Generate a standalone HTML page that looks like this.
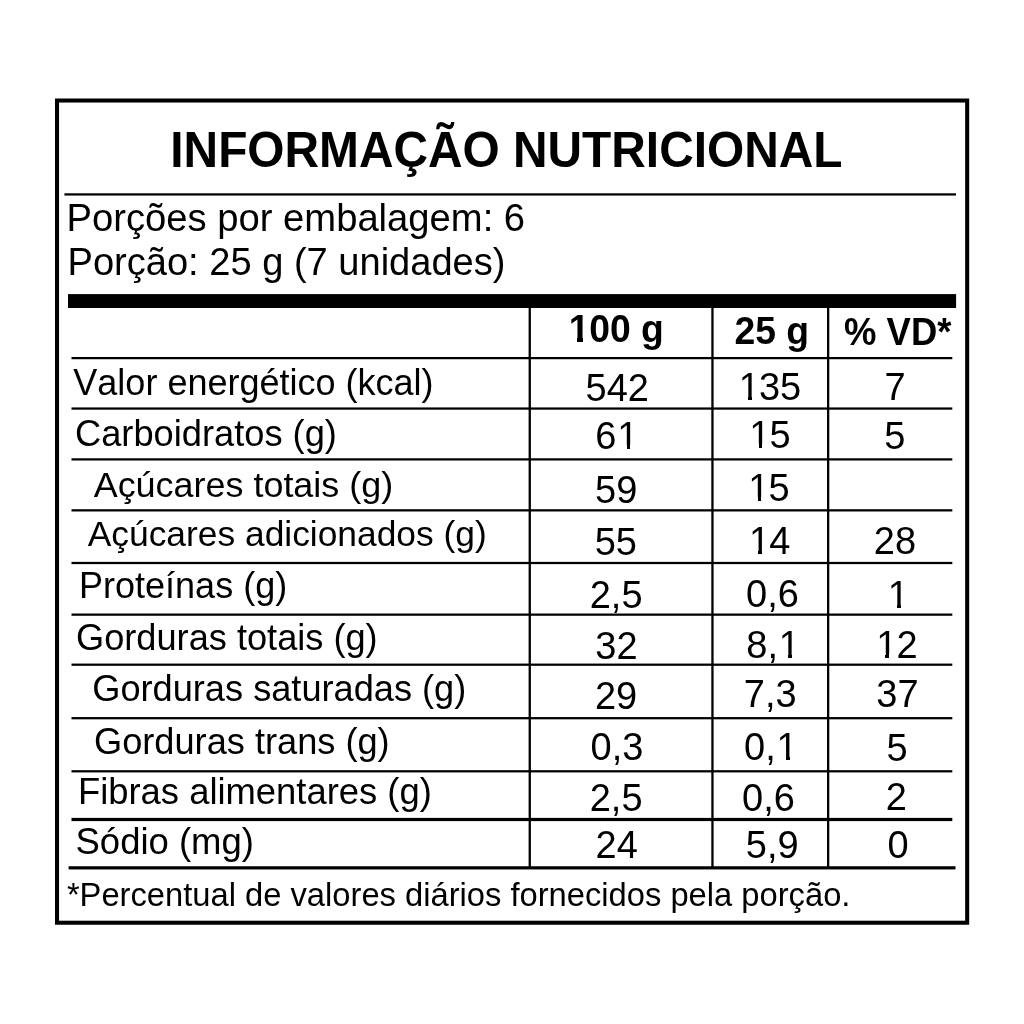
<!DOCTYPE html>
<html lang="pt-BR">
<head>
<meta charset="utf-8">
<title>Informação Nutricional</title>
<style>
html,body{margin:0;padding:0;background:#fff;}
body{width:1024px;height:1024px;position:relative;overflow:hidden;font-family:"Liberation Sans", Arial, Helvetica, sans-serif;color:#000;}
.l{position:absolute;left:0;top:0;width:1024px;height:1024px;}
.t{position:absolute;white-space:nowrap;line-height:1;font-kerning:none;}
.b{font-weight:bold;}
.o{position:relative;left:.024em}
.o::before,.o::after{content:"";position:absolute;background:#fff;top:.79em;height:.16em}
.o::before{left:.06em;width:.186em}
.o::after{left:.346em;width:.19em}
.b .o{left:.01em}
.b .o::before,.b .o::after{top:.76em;height:.19em}
.b .o::before{left:.05em;width:.174em}
.b .o::after{left:.379em;width:.17em}
</style>
</head>
<body>
<svg class="l" width="1024" height="1024" viewBox="0 0 1024 1024" fill="#000">
<rect x="57.025" y="100.525" width="910.15" height="822.2" fill="none" stroke="#000" stroke-width="4.05"/>
<rect x="64.4" y="193.3" width="891.6" height="2.25"/>
<rect x="68" y="294.1" width="888.1" height="13.9"/>
<rect x="71.5" y="356.975" width="880.8" height="2.25"/>
<rect x="71.5" y="407.425" width="880.8" height="2.25"/>
<rect x="71.5" y="458.275" width="880.8" height="2.25"/>
<rect x="71.5" y="509.225" width="880.8" height="2.25"/>
<rect x="71.5" y="561.875" width="880.8" height="2.25"/>
<rect x="71.5" y="613.525" width="880.8" height="2.25"/>
<rect x="71.5" y="663.575" width="880.8" height="2.25"/>
<rect x="71.5" y="717.075" width="880.8" height="2.25"/>
<rect x="71.5" y="770.175" width="880.8" height="2.25"/>
<rect x="71.5" y="817.9" width="880.8" height="3.2"/>
<rect x="68.6" y="866.25" width="886.9" height="3.2"/>
<rect x="528.6" y="307.5" width="2.3" height="560.5"/>
<rect x="711.3" y="307.5" width="2.3" height="560.5"/>
<rect x="827" y="307.5" width="2.3" height="560.5"/>
</svg>
<div id="title" class="t b" style="left:170.30px;top:127.40px;font-size:47.84px;transform:scale(1,1.045);transform-origin:0 40.50px">INFORMAÇÃO NUTRICIONAL</div>
<div id="p1" class="t" style="left:66.60px;top:198.86px;font-size:38.20px">Porções por embalagem: 6</div>
<div id="p2" class="t" style="left:67.50px;top:242.87px;font-size:38.07px">Porção: 25 g (7 unidades)</div>
<div id="h100" class="t b" style="left:568.50px;top:311.43px;font-size:37.30px;transform:scale(1,1.03);transform-origin:0 31.57px"><span class="o">1</span>00 g</div>
<div id="h25" class="t b" style="left:734.50px;top:313.43px;font-size:37.30px;transform:scale(1,1.03);transform-origin:0 31.57px">25 g</div>
<div id="hvd" class="t b" style="left:843.50px;top:314.43px;font-size:37.30px;transform:scale(0.978,1.03);transform-origin:0 31.57px">% VD*</div>
<div id="L1" class="t" style="left:73.30px;top:365.31px;font-size:36.02px">Valor energético (kcal)</div>
<div id="L2" class="t" style="left:75.00px;top:416.41px;font-size:36.25px">Carboidratos (g)</div>
<div id="L3" class="t" style="left:93.71px;top:466.78px;font-size:35.94px">Açúcares totais (g)</div>
<div id="L4" class="t" style="left:87.78px;top:516.37px;font-size:35.36px">Açúcares adicionados (g)</div>
<div id="L5" class="t" style="left:79.00px;top:567.81px;font-size:36.02px">Proteínas (g)</div>
<div id="L6" class="t" style="left:76.00px;top:619.96px;font-size:36.20px">Gorduras totais (g)</div>
<div id="L7" class="t" style="left:92.30px;top:671.17px;font-size:36.18px">Gorduras saturadas (g)</div>
<div id="L8" class="t" style="left:94.00px;top:723.56px;font-size:36.20px">Gorduras trans (g)</div>
<div id="L9" class="t" style="left:77.93px;top:773.59px;font-size:36.40px">Fibras alimentares (g)</div>
<div id="L10" class="t" style="left:75.50px;top:823.71px;font-size:36.49px">Sódio (mg)</div>
<div id="foot" class="t" style="left:66.90px;top:878.91px;font-size:32.71px">*Percentual de valores diários fornecidos pela porção.</div>
<div id="A1" class="t" style="left:585.50px;top:369.43px;font-size:38.00px;transform:scale(1,1.025);transform-origin:0 32.17px">542</div>
<div id="B1" class="t" style="left:737.80px;top:368.03px;font-size:38.00px;transform:scale(1,1.025);transform-origin:0 32.17px"><span class="o">1</span>35</div>
<div id="C1" class="t" style="left:884.50px;top:367.93px;font-size:38.00px;transform:scale(1,1.025);transform-origin:0 32.17px">7</div>
<div id="A2" class="t" style="left:595.20px;top:417.23px;font-size:38.00px;transform:scale(1,1.025);transform-origin:0 32.17px">6<span class="o">1</span></div>
<div id="B2" class="t" style="left:748.30px;top:416.33px;font-size:38.00px;transform:scale(1,1.025);transform-origin:0 32.17px"><span class="o">1</span>5</div>
<div id="C2" class="t" style="left:884.20px;top:417.43px;font-size:38.00px;transform:scale(1,1.025);transform-origin:0 32.17px">5</div>
<div id="A3" class="t" style="left:595.00px;top:470.53px;font-size:38.00px;transform:scale(1,1.025);transform-origin:0 32.17px">59</div>
<div id="B3" class="t" style="left:747.39px;top:469.43px;font-size:38.00px;transform:scale(1,1.025);transform-origin:0 32.17px"><span class="o">1</span>5</div>
<div id="A4" class="t" style="left:594.70px;top:523.03px;font-size:38.00px;transform:scale(1,1.025);transform-origin:0 32.17px">55</div>
<div id="B4" class="t" style="left:748.00px;top:521.83px;font-size:38.00px;transform:scale(1,1.025);transform-origin:0 32.17px"><span class="o">1</span>4</div>
<div id="C4" class="t" style="left:873.80px;top:521.83px;font-size:38.00px;transform:scale(1,1.025);transform-origin:0 32.17px">28</div>
<div id="A5" class="t" style="left:589.70px;top:576.33px;font-size:38.00px;transform:scale(1,1.025);transform-origin:0 32.17px">2,5</div>
<div id="B5" class="t" style="left:746.00px;top:575.23px;font-size:38.00px;transform:scale(1,1.025);transform-origin:0 32.17px">0,6</div>
<div id="C5" class="t" style="left:886.80px;top:576.33px;font-size:38.00px;transform:scale(1,1.025);transform-origin:0 32.17px"><span class="o">1</span></div>
<div id="A6" class="t" style="left:595.30px;top:627.43px;font-size:38.00px;transform:scale(1,1.025);transform-origin:0 32.17px">32</div>
<div id="B6" class="t" style="left:746.25px;top:626.08px;font-size:38.00px;transform:scale(1,1.025);transform-origin:0 32.17px">8,<span class="o">1</span></div>
<div id="C6" class="t" style="left:875.25px;top:626.08px;font-size:38.00px;transform:scale(1,1.025);transform-origin:0 32.17px"><span class="o">1</span>2</div>
<div id="A7" class="t" style="left:594.89px;top:677.43px;font-size:38.00px;transform:scale(1,1.025);transform-origin:0 32.17px">29</div>
<div id="B7" class="t" style="left:743.75px;top:675.23px;font-size:38.00px;transform:scale(1,1.025);transform-origin:0 32.17px">7,3</div>
<div id="C7" class="t" style="left:876.30px;top:675.23px;font-size:38.00px;transform:scale(1,1.025);transform-origin:0 32.17px">37</div>
<div id="A8" class="t" style="left:590.50px;top:727.53px;font-size:38.00px;transform:scale(1,1.025);transform-origin:0 32.17px">0,3</div>
<div id="B8" class="t" style="left:744.00px;top:727.58px;font-size:38.00px;transform:scale(1,1.025);transform-origin:0 32.17px">0,<span class="o">1</span></div>
<div id="C8" class="t" style="left:886.50px;top:728.53px;font-size:38.00px;transform:scale(1,1.025);transform-origin:0 32.17px">5</div>
<div id="A9" class="t" style="left:589.70px;top:778.83px;font-size:38.00px;transform:scale(1,1.025);transform-origin:0 32.17px">2,5</div>
<div id="B9" class="t" style="left:742.00px;top:779.23px;font-size:38.00px;transform:scale(1,1.025);transform-origin:0 32.17px">0,6</div>
<div id="C9" class="t" style="left:885.80px;top:777.93px;font-size:38.00px;transform:scale(1,1.025);transform-origin:0 32.17px">2</div>
<div id="A10" class="t" style="left:595.50px;top:825.93px;font-size:38.00px;transform:scale(1,1.025);transform-origin:0 32.17px">24</div>
<div id="B10" class="t" style="left:745.75px;top:826.03px;font-size:38.00px;transform:scale(1,1.025);transform-origin:0 32.17px">5,9</div>
<div id="C10" class="t" style="left:887.50px;top:826.33px;font-size:38.00px;transform:scale(1,1.025);transform-origin:0 32.17px">0</div>
</body>
</html>
